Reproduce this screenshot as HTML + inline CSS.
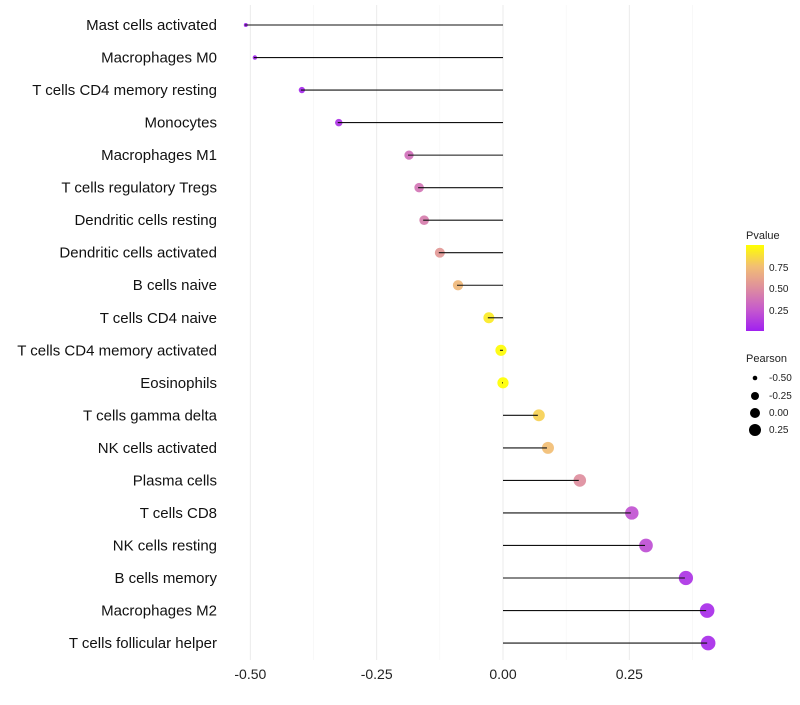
<!DOCTYPE html>
<html><head><meta charset="utf-8"><style>
body{margin:0;background:#fff;font-family:"Liberation Sans",sans-serif}
</style></head><body>
<svg id="chart" width="800" height="700" xmlns="http://www.w3.org/2000/svg">
<defs><linearGradient id="pg" x1="0" y1="1" x2="0" y2="0">
<stop offset="0" stop-color="#A020F0"/><stop offset="0.25" stop-color="#C65ACD"/><stop offset="0.5" stop-color="#DE8E9E"/><stop offset="0.75" stop-color="#F2BE74"/><stop offset="1" stop-color="#FFFF00"/></linearGradient></defs>
<g id="grid"></g><g id="marks"></g><g id="labels"></g>
<g font-size="10">
<text x="746" y="239" font-size="11" fill="#222">Pvalue</text>
<rect x="746" y="245" width="18" height="86" fill="url(#pg)"/>
<text x="769" y="271" fill="#222">0.75</text><text x="769" y="292" fill="#222">0.50</text><text x="769" y="314" fill="#222">0.25</text>
</g>
<g font-size="10" fill="#222">
<text x="746" y="362" font-size="11">Pearson</text>
<circle cx="755" cy="378" r="2.3" fill="#000"/><text x="769" y="381">-0.50</text>
<circle cx="755" cy="396" r="4" fill="#000"/><text x="769" y="399">-0.25</text>
<circle cx="755" cy="413" r="5" fill="#000"/><text x="769" y="416">0.00</text>
<circle cx="755" cy="430" r="6" fill="#000"/><text x="769" y="433">0.25</text>
</g>
</svg>
<script>
const categories=["Mast cells activated","Macrophages M0","T cells CD4 memory resting","Monocytes","Macrophages M1","T cells regulatory  Tregs ","Dendritic cells resting","Dendritic cells activated","B cells naive","T cells CD4 naive","T cells CD4 memory activated","Eosinophils","T cells gamma delta","NK cells activated","Plasma cells","T cells CD8","NK cells resting","B cells memory","Macrophages M2","T cells follicular helper"];
const pearson=[-0.511,-0.493,-0.40,-0.327,-0.188,-0.168,-0.158,-0.127,-0.091,-0.030,-0.006,-0.002,0.069,0.087,0.150,0.253,0.281,0.360,0.402,0.404];
const pvalue=[0.0,0.01,0.03,0.08,0.35,0.38,0.42,0.55,0.72,0.92,0.99,1.0,0.82,0.75,0.5,0.22,0.2,0.08,0.05,0.05];
const xTicks=[-0.5,-0.25,0,0.25];
const xTickLabels=["-0.50","-0.25","0.00","0.25"];
const NS="http://www.w3.org/2000/svg";
const xS=v=>503+v*505.3;
const yS=i=>25+i*32.53;
function col(p){const s=[[0,[160,32,240]],[0.25,[198,90,205]],[0.5,[222,142,158]],[0.75,[242,190,116]],[1,[255,255,0]]];
for(let k=1;k<s.length;k++){if(p<=s[k][0]){const a=s[k-1],b=s[k],t=(p-a[0])/(b[0]-a[0]);return "rgb("+a[1].map((c,j)=>Math.round(c+(b[1][j]-c)*t)).join(",")+")";}}return "rgb(255,255,0)";}
function mk(t,a,parent){const e=document.createElementNS(NS,t);for(const k in a)e.setAttribute(k,a[k]);document.getElementById(parent).appendChild(e);return e;}
for(let v=-0.5;v<=0.45;v+=0.125){const major=Math.abs(v/0.25-Math.round(v/0.25))<1e-6;
const l=mk("line",{x1:xS(v),x2:xS(v),y1:5,y2:660,stroke:major?"#ebebeb":"#f4f4f4","stroke-width":major?1:0.6},"grid");

}
xTicks.forEach((v,i)=>{const t=mk("text",{x:xS(v),y:679,"text-anchor":"middle","font-size":14,fill:"#222"},"labels");t.textContent=xTickLabels[i];

});
categories.forEach((c,i)=>{const y=yS(i);
const t=mk("text",{x:217,y:y+5,"text-anchor":"end","font-size":15,fill:"#111"},"labels");t.textContent=c;


const r=Math.sqrt(Math.max(3,4+(pearson[i]+0.51)*54));
const ci=mk("circle",{cx:xS(pearson[i])+1,cy:y,r:r,fill:col(pvalue[i]),"fill-opacity":0.92},"marks");


const ln=mk("line",{x1:xS(0),x2:xS(pearson[i]),y1:y,y2:y,stroke:"#111","stroke-width":1.1},"marks");

});
</script>
</body></html>
